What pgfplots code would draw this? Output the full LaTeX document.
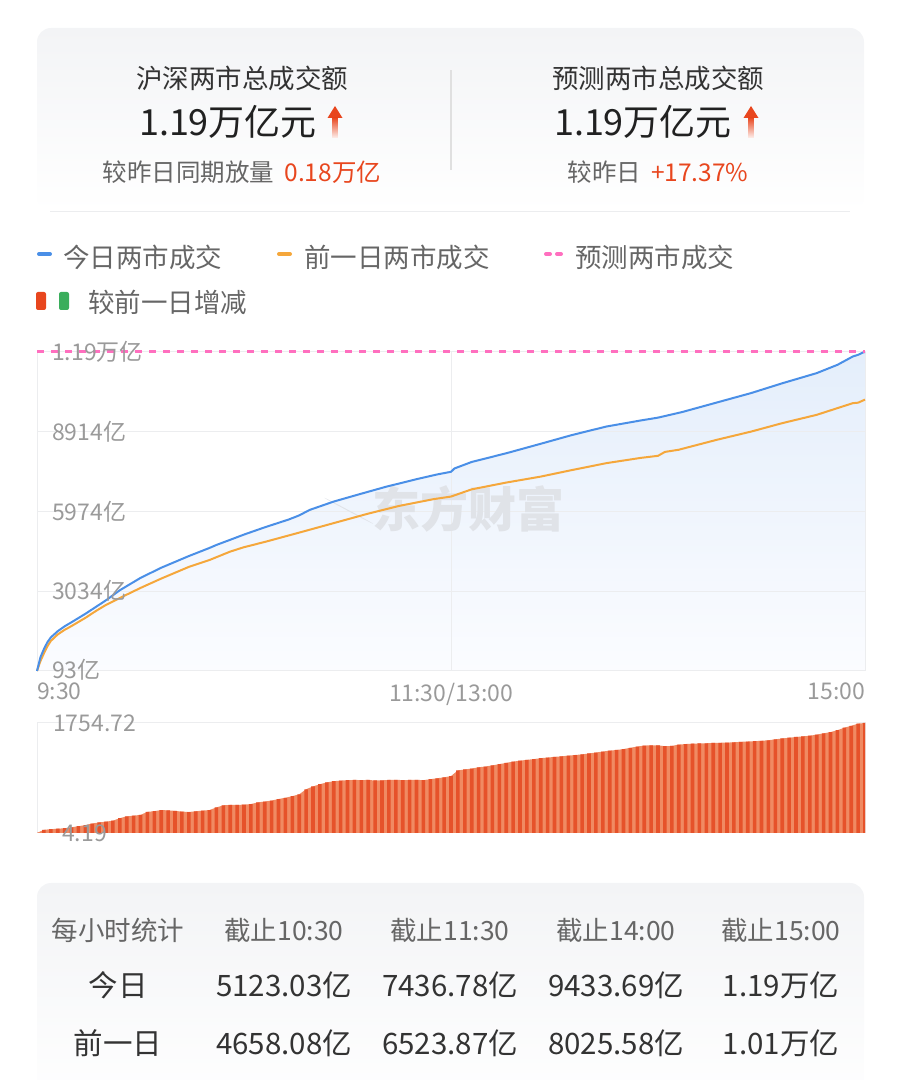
\documentclass[border=0pt]{standalone}
\usepackage{fontspec}
\setmainfont{Noto Sans CJK SC}
\usepackage{pgfplots}
\usepackage{pgfplotstable}
\pgfplotsset{compat=1.18}

% area fill under the grid, lines over it, tick labels on top
\pgfplotsset{
  layers/labels on top/.define layer set={
    axis background,pre main,axis grid,axis ticks,axis lines,main,axis tick labels,axis descriptions,axis foreground
  }{
    grid style={/pgfplots/on layer=axis grid},
    tick style={/pgfplots/on layer=axis ticks},
    axis line style={/pgfplots/on layer=axis lines},
    label style={/pgfplots/on layer=axis descriptions},
    legend style={/pgfplots/on layer=axis descriptions},
    title style={/pgfplots/on layer=axis descriptions},
    colorbar style={/pgfplots/on layer=axis descriptions},
    ticklabel style={/pgfplots/on layer=axis tick labels},
    axis background@ style={/pgfplots/on layer=axis background},
    3d box foreground style={/pgfplots/on layer=axis foreground},
  },
}

\definecolor{cBlue}{HTML}{4A8FE7}
\definecolor{cOrange}{HTML}{F5A73B}
\definecolor{cPink}{HTML}{FF6FBF}
\definecolor{cRed}{HTML}{E8461E}
\definecolor{cGreen}{HTML}{3AAE5C}
\definecolor{cBar}{HTML}{E6522A}
\definecolor{cBarLight}{HTML}{F08A62}
\definecolor{cGrid}{HTML}{ECEDEF}
\definecolor{cTick}{HTML}{9A9A9A}
\definecolor{cText}{HTML}{333333}
\definecolor{cSub}{HTML}{666666}
\definecolor{cCard}{HTML}{F3F4F6}
\definecolor{cFillTop}{HTML}{E4EEFB}
\definecolor{cFillBot}{HTML}{FBFCFF}
\definecolor{cMark}{HTML}{E0E3E8}

\newcommand\fs[1]{\fontsize{#1}{#1}\selectfont}
% up arrow icon, x = centre, y = top of head
\newcommand\uparrowicon[2]{%
  \fill[cRed] (#1,#2) -- (#1+7.5,#2-12) -- (#1-7.5,#2-12) -- cycle;
  \shade[top color=cRed, bottom color=cRed!8] (#1-2.8,#2-11.5) rectangle (#1+2.8,#2-32);
}

% minutes after 9:30 (lunch break removed), turnover in 亿
\pgfplotstableread{
t v
0 93
1 600
2 900
3 1150
4 1330
6 1560
8 1740
10 1890
14 2200
17 2450
20 2700
24 3070
30 3525
36 3900
44 4330
50 4630
52 4740
56 4930
60 5123
66 5390
73 5680
76 5830
79 6030
86 6340
94 6630
101 6880
110 7165
116 7340
120 7437
121 7560
126 7800
136 8120
146 8470
155 8790
165 9105
175 9330
180 9434
187 9640
197 9990
207 10340
216 10700
226 11075
232 11380
236.5 11690
238 11750
239.4 11835
240 11854
}\today

\pgfplotstableread{
t v
0 93
1 460
2 740
3 1000
4 1200
6 1440
8 1610
10 1750
14 2050
17 2300
20 2530
24 2785
30 3155
36 3500
44 3930
50 4185
56 4495
60 4658
66 4850
76 5195
86 5545
96 5895
105 6180
115 6430
120 6524
126 6790
136 7040
146 7260
155 7500
165 7755
175 7950
180 8026
182 8170
186 8250
197 8615
207 8920
216 9230
226 9537
232 9784
236.5 9968
238 9985
240 10099
}\yesterday

% difference today - yesterday, one bar every 2 minutes
\pgfplotstableread{
t v
0 5
2 55
4 65
6 72
8 80
10 95
12 112
14 130
16 155
18 172
20 185
22 200
24 240
26 268
28 280
30 292
32 340
34 352
36 368
38 365
40 355
42 345
44 338
46 350
48 360
50 370
52 410
54 445
56 450
58 452
60 455
62 465
64 490
66 505
68 520
70 545
72 565
74 590
76 620
78 700
80 745
82 780
84 810
86 828
88 838
90 845
92 848
94 847
96 848
98 840
100 842
102 848
104 850
106 846
108 848
110 850
112 845
114 860
116 875
118 890
120 910
122 1000
124 1015
126 1030
128 1050
130 1062
132 1080
134 1100
136 1120
138 1140
140 1155
142 1168
144 1180
146 1195
148 1205
150 1215
152 1225
154 1235
156 1245
158 1255
160 1270
162 1285
164 1300
166 1315
168 1325
170 1340
172 1360
174 1380
176 1395
178 1400
180 1400
182 1385
184 1390
186 1410
188 1420
190 1425
192 1430
194 1432
196 1438
198 1440
200 1442
202 1448
204 1455
206 1460
208 1465
210 1472
212 1480
214 1495
216 1508
218 1520
220 1532
222 1542
224 1552
226 1570
228 1590
230 1610
232 1640
234 1680
236 1710
238 1745
240 1755
}\diff

\begin{document}
\begin{tikzpicture}[x=1pt,y=1pt]

% ---- summary card
\shade[top color=cCard, bottom color=white, rounded corners=14pt] (37,868) rectangle (864,1052);
\draw[cGrid, line width=1pt] (50,868) -- (850,868);
\draw[black!12, line width=1.2pt] (451,910) -- (451,1010);

\node[text=cText, font=\fs{26.5}] at (242,1002) {沪深两市总成交额};
\node[text=black!87, font=\fs{36}] at (228,958) {1.19万亿元};
\uparrowicon{335}{974}
\node[font=\fs{24.5}] at (242,908) {\color{cSub}较昨日同期放量\hspace{10pt}\color{cRed}0.18万亿};

\node[text=cText, font=\fs{26.5}] at (658,1002) {预测两市总成交额};
\node[text=black!87, font=\fs{36}] at (643,958) {1.19万亿元};
\uparrowicon{751}{974}
\node[font=\fs{24.5}] at (658,908) {\color{cSub}较昨日\hspace{10pt}\color{cRed}+17.37\%};

% ---- legend
\draw[cBlue, line width=4pt, line cap=round] (39,826) -- (50,826);
\node[anchor=west, text=cSub, font=\fs{26.5}, inner sep=0pt] at (63,823) {今日两市成交};
\draw[cOrange, line width=4pt, line cap=round] (279,826) -- (290,826);
\node[anchor=west, text=cSub, font=\fs{26.5}, inner sep=0pt] at (304,823) {前一日两市成交};
\draw[cPink, line width=4pt, line cap=round] (546,826) -- (550,826) (557,826) -- (561,826);
\node[anchor=west, text=cSub, font=\fs{26.5}, inner sep=0pt] at (575,823) {预测两市成交};
\fill[cRed, rounded corners=2pt] (36,770) rectangle (46,788);
\fill[cGreen, rounded corners=2pt] (59,770) rectangle (69,788);
\node[anchor=west, text=cSub, font=\fs{26.5}, inner sep=0pt] at (88,778) {较前一日增减};

% ---- cumulative turnover
\begin{axis}[
  set layers=labels on top,
  at={(37pt,409pt)}, anchor=south west,
  width=828pt, height=319pt, scale only axis,
  xmin=0, xmax=240, ymin=93, ymax=11854,
  scaled y ticks=false,
  axis line style={draw=cGrid, line width=1pt},
  major tick length=0pt,
  xtick={0,120,240},
  xticklabels={\makebox[0pt][l]{9:30}, 11:30/13:00, \makebox[0pt][r]{15:00}},
  ytick={93,3033.25,5973.5,8913.75,11854},
  yticklabels={\raisebox{5pt}{93亿},3034亿,5974亿,8914亿,1.19万亿},
  grid=major, grid style={draw=cGrid, line width=1pt},
  tick label style={font=\fs{23}, text=cTick},
  yticklabel style={anchor=west, inner sep=0pt, xshift=15pt},
  xticklabel style={anchor=north, inner sep=0pt, yshift=-12pt},
  /pgf/number format/assume math mode=true,
  clip=false,
]
\addplot[on layer=pre main, draw=none, top color=cFillTop, bottom color=cFillBot] table[x=t,y=v] {\today} \closedcycle;
\node[text=cMark, font=\bfseries\fs{48}, inner sep=0pt] (wm) at (axis cs:125,6080) {东方财富};
\fill[cMark, shift={(wm.west)}, xshift=-22pt, rotate=-28] (0,0) ellipse (8 and 18);
\addplot[cOrange, line width=2pt, line join=round] table[x=t,y=v] {\yesterday};
\addplot[cBlue, line width=2pt, line join=round] table[x=t,y=v] {\today};
\addplot[cPink, line width=3pt, dash pattern=on 7pt off 7pt] coordinates {(0,11854) (240,11854)};
\end{axis}

% ---- difference bars
\begin{axis}[
  set layers=labels on top,
  at={(37pt,247pt)}, anchor=south west,
  width=828pt, height=110pt, scale only axis,
  xmin=0, xmax=240, ymin=4.19, ymax=1754.72,
  scaled y ticks=false,
  axis line style={draw=cGrid, line width=1pt},
  major tick length=0pt,
  xtick=\empty,
  ytick={4.19,1754.72},
  yticklabels={\hspace{9pt}4.19, 1754.72},
  tick label style={font=\fs{23}, text=cTick},
  yticklabel style={anchor=west, inner sep=0pt, xshift=16pt},
  /pgf/number format/assume math mode=true,
]
\addplot[fill=cBarLight, draw=none] table[x=t,y=v] {\diff} \closedcycle;
\addplot[ybar, bar width=3.6pt, fill=cBar, draw=none] table[x=t,y=v] {\diff};
\end{axis}

% ---- hourly table
\shade[top color=cCard, bottom color=white, rounded corners=14pt] (37,-30) rectangle (864,197);
\foreach \x/\s in {118/每小时统计, 284/截止10:30, 450/截止11:30, 616/截止14:00, 781/截止15:00}
  \node[text=cSub, font=\fs{26.5}] at (\x,150) {\s};
\foreach \x/\s in {118/今日, 284/5123.03亿, 450/7436.78亿, 616/9433.69亿, 781/1.19万亿}
  \node[text=cText, font=\fs{29.5}] at (\x,95) {\s};
\foreach \x/\s in {118/前一日, 284/4658.08亿, 450/6523.87亿, 616/8025.58亿, 781/1.01万亿}
  \node[text=cText, font=\fs{29.5}] at (\x,37) {\s};

\pgfresetboundingbox
\useasboundingbox (0,0) rectangle (900,1080);
\end{tikzpicture}
\end{document}
